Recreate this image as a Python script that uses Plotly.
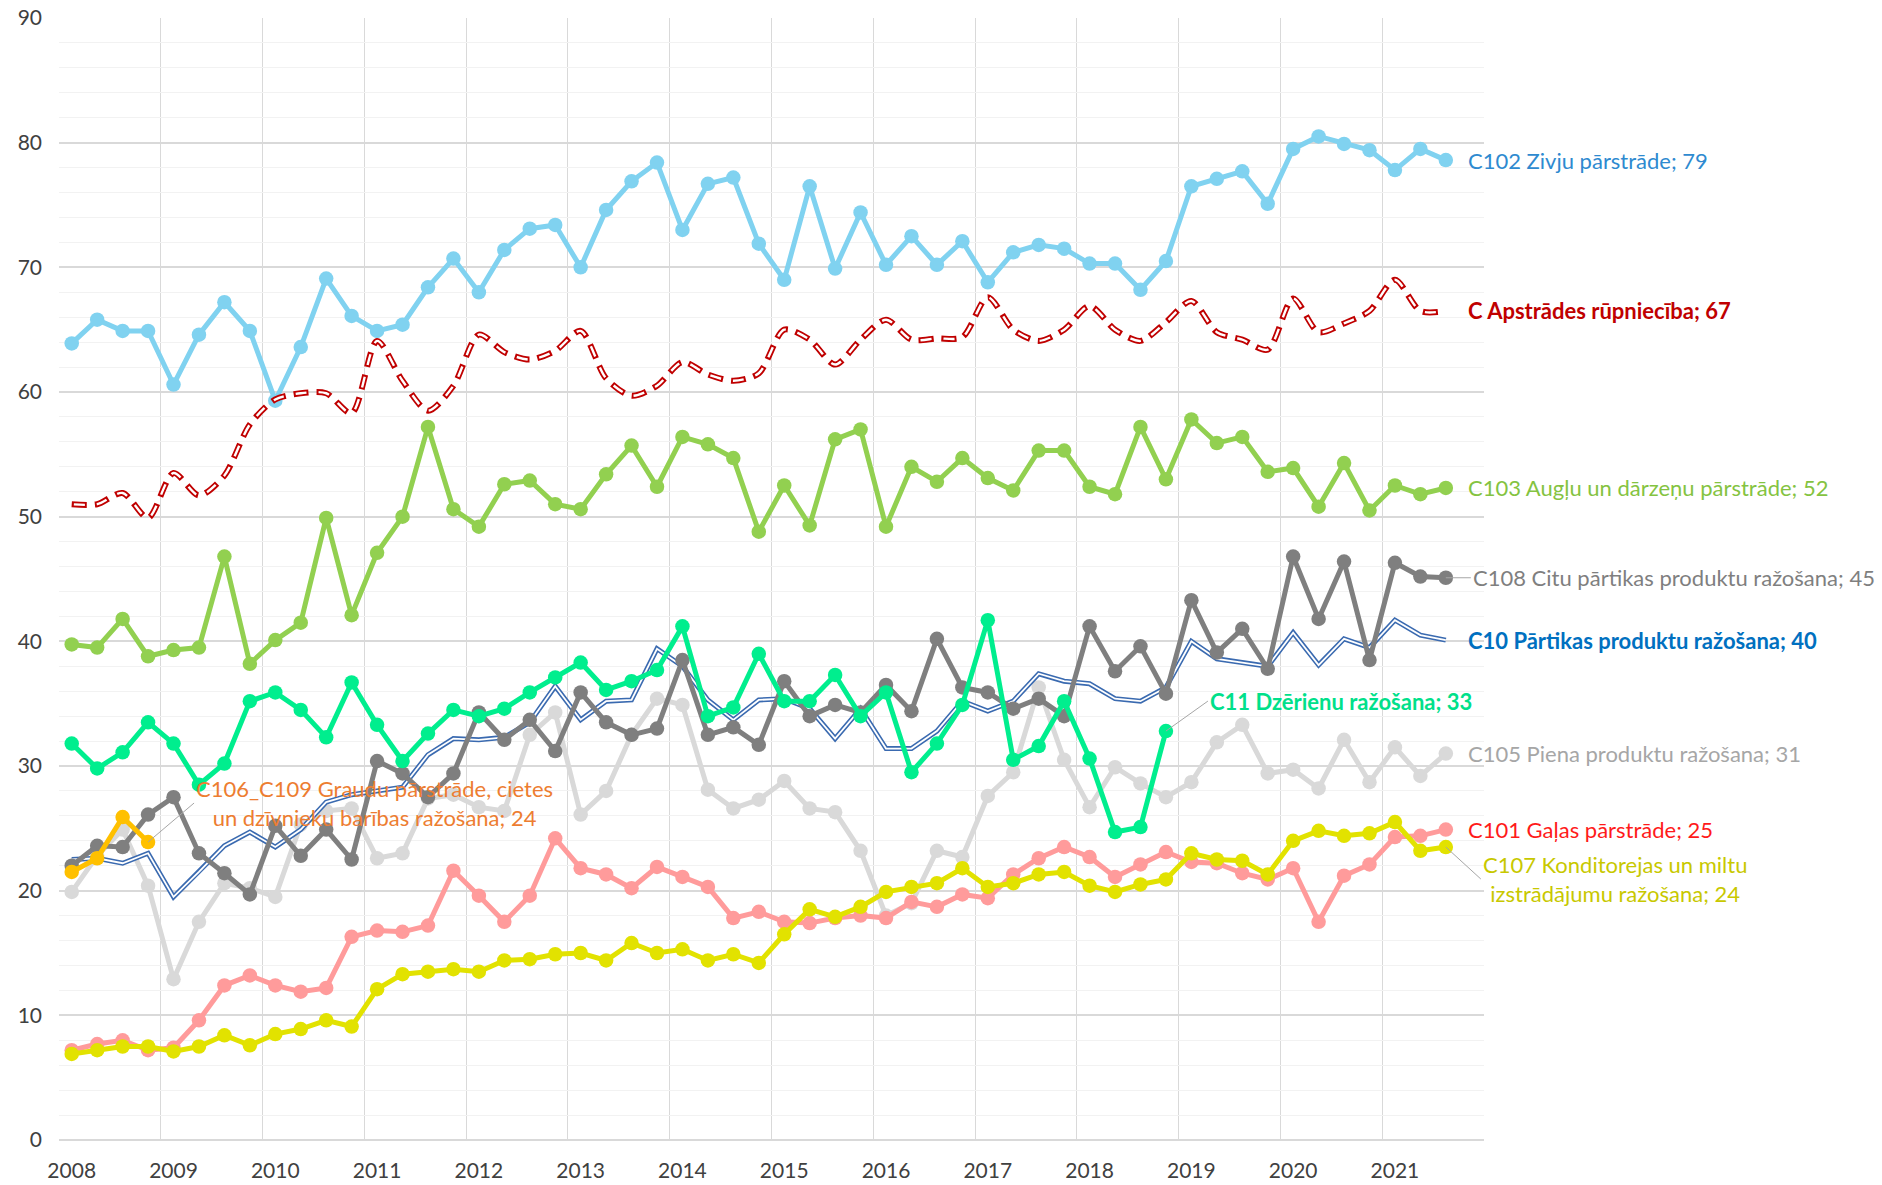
import plotly.graph_objects as go

# ---------------- data (quarterly, 2008Q1 .. 2021Q3) ----------------
years = [str(y) for y in range(2008, 2022)]
n_cat = 56  # 14 years x 4 quarters on the axis

c102 = [63.9, 65.8, 64.9, 64.9, 60.6, 64.6, 67.2, 64.9, 59.3, 63.6,
        69.1, 66.1, 64.9, 65.4, 68.4, 70.7, 68.0, 71.4, 73.1, 73.4,
        70.0, 74.6, 76.9, 78.4, 73.0, 76.7, 77.2, 71.9, 69.0, 76.5,
        69.9, 74.4, 70.2, 72.5, 70.2, 72.1, 68.8, 71.2, 71.8, 71.5,
        70.3, 70.3, 68.2, 70.5, 76.5, 77.1, 77.7, 75.1, 79.5, 80.5,
        79.9, 79.4, 77.8, 79.5, 78.6]
c_total = [51.0, 51.0, 51.9, 49.9, 53.5, 51.7, 53.3, 57.4, 59.4, 59.9,
           59.9, 58.3, 64.1, 60.9, 58.5, 60.5, 64.6, 63.2, 62.6, 63.3,
           64.9, 61.1, 59.7, 60.5, 62.4, 61.4, 60.9, 61.5, 65.0, 64.2,
           62.2, 64.2, 65.8, 64.2, 64.3, 64.4, 67.6, 65.0, 64.1, 65.0,
           66.9, 65.0, 64.1, 65.6, 67.3, 64.8, 64.2, 63.4, 67.5, 64.8,
           65.5, 66.5, 69.0, 66.5, 66.5]
c103 = [39.75, 39.5, 41.8, 38.8, 39.3, 39.5, 46.8, 38.2, 40.1, 41.5,
        49.9, 42.1, 47.1, 50.0, 57.2, 50.6, 49.2, 52.6, 52.9, 51.0,
        50.6, 53.4, 55.7, 52.4, 56.4, 55.8, 54.7, 48.8, 52.5, 49.3,
        56.2, 57.0, 49.2, 54.0, 52.8, 54.7, 53.1, 52.1, 55.3, 55.3,
        52.4, 51.8, 57.2, 53.0, 57.8, 55.9, 56.4, 53.6, 53.9, 50.8,
        54.3, 50.5, 52.5, 51.8, 52.3]
c108 = [22.0, 23.6, 23.5, 26.1, 27.5, 23.0, 21.4, 19.7, 25.2, 22.8,
        24.9, 22.5, 30.4, 29.4, 27.5, 29.4, 34.3, 32.1, 33.7, 31.2,
        35.9, 33.5, 32.5, 33.0, 38.5, 32.5, 33.1, 31.7, 36.8, 34.0,
        34.9, 34.3, 36.5, 34.4, 40.2, 36.3, 35.9, 34.6, 35.4, 34.0,
        41.2, 37.6, 39.6, 35.8, 43.3, 39.1, 41.0, 37.8, 46.8, 41.8,
        46.4, 38.5, 46.3, 45.2, 45.1]
c10 = [22.5, 22.6, 22.2, 23.0, 19.5, 21.5, 23.6, 24.7, 23.5, 24.9,
       27.1, 27.7, 28.0, 28.3, 30.9, 32.2, 32.1, 32.3, 33.5, 36.4,
       33.7, 35.2, 35.3, 39.4, 38.0, 35.3, 33.7, 35.3, 35.4, 34.6,
       32.2, 34.6, 31.4, 31.4, 32.8, 35.2, 34.4, 35.2, 37.4, 36.8,
       36.6, 35.4, 35.2, 36.3, 40.0, 38.6, 38.3, 38.0, 40.7, 38.1,
       40.2, 39.5, 41.7, 40.5, 40.1]
c11 = [31.8, 29.8, 31.1, 33.5, 31.8, 28.5, 30.2, 35.2, 35.9, 34.5,
       32.3, 36.7, 33.3, 30.4, 32.6, 34.5, 34.0, 34.6, 35.9, 37.1,
       38.3, 36.1, 36.8, 37.7, 41.2, 34.0, 34.7, 39.0, 35.2, 35.2,
       37.3, 34.0, 35.9, 29.5, 31.8, 34.9, 41.7, 30.5, 31.6, 35.2,
       30.6, 24.7, 25.1, 32.8]
c105 = [19.9, 22.8, 24.9, 20.4, 12.9, 17.5, 20.6, 20.2, 19.5, 25.3,
        26.4, 26.6, 22.6, 23.0, 27.4, 27.7, 26.7, 26.4, 32.5, 34.3,
        26.1, 28.0, 32.5, 35.4, 34.9, 28.1, 26.6, 27.3, 28.8, 26.6,
        26.3, 23.2, 18.0, 19.0, 23.2, 22.7, 27.6, 29.5, 36.3, 30.5,
        26.7, 29.9, 28.6, 27.5, 28.7, 31.9, 33.3, 29.4, 29.7, 28.2,
        32.1, 28.7, 31.5, 29.2, 31.0]
c101 = [7.2, 7.7, 8.0, 7.2, 7.4, 9.6, 12.4, 13.2, 12.4, 11.9,
        12.2, 16.3, 16.8, 16.7, 17.2, 21.6, 19.6, 17.5, 19.6, 24.2,
        21.8, 21.3, 20.2, 21.9, 21.1, 20.3, 17.8, 18.3, 17.5, 17.4,
        17.8, 18.0, 17.8, 19.1, 18.7, 19.7, 19.4, 21.3, 22.6, 23.5,
        22.7, 21.1, 22.1, 23.1, 22.3, 22.2, 21.4, 20.9, 21.8, 17.5,
        21.2, 22.1, 24.3, 24.4, 24.9]
c107 = [6.9, 7.2, 7.5, 7.5, 7.1, 7.5, 8.4, 7.6, 8.5, 8.9,
        9.6, 9.1, 12.1, 13.3, 13.5, 13.7, 13.5, 14.4, 14.5, 14.9,
        15.0, 14.4, 15.8, 15.0, 15.3, 14.4, 14.9, 14.2, 16.5, 18.5,
        17.9, 18.7, 19.9, 20.3, 20.6, 21.8, 20.3, 20.6, 21.3, 21.5,
        20.4, 19.9, 20.5, 20.9, 23.0, 22.5, 22.4, 21.3, 24.0, 24.8,
        24.4, 24.6, 25.5, 23.2, 23.5]
c106_109 = [21.5, 22.6, 25.9, 23.9]

FONT = "Lato"
fig = go.Figure()


def idx(series):
    return list(range(len(series)))


def marker_line(series, color, name):
    fig.add_trace(go.Scatter(
        x=idx(series), y=series, mode="lines+markers", name=name,
        line=dict(color=color, width=5),
        marker=dict(color=color, size=14.5),
        hoverinfo="x+y+name"))


# draw order (back to front)
marker_line(c105, "#D9D9D9", "C105")
marker_line(c101, "#FF9B9B", "C101")
marker_line(c107, "#E2E200", "C107")
# C10 double line
fig.add_trace(go.Scatter(x=idx(c10), y=c10, mode="lines", name="C10",
                         line=dict(color="#3A6AB0", width=5)))
fig.add_trace(go.Scatter(x=idx(c10), y=c10, mode="lines", showlegend=False,
                         hoverinfo="skip", line=dict(color="#FFFFFF", width=1.8)))
marker_line(c108, "#7F7F7F", "C108")
marker_line(c11, "#00EE8E", "C11")
marker_line(c103, "#92D050", "C103")
marker_line(c102, "#80D2F0", "C102")
# C total: smoothed, red-outlined dashes
fig.add_trace(go.Scatter(x=idx(c_total), y=c_total, mode="lines", name="C",
                         line=dict(color="#C00000", width=6, dash="15px,8px",
                                   shape="spline", smoothing=0.8)))
fig.add_trace(go.Scatter(x=idx(c_total), y=c_total, mode="lines", showlegend=False,
                         hoverinfo="skip",
                         line=dict(color="#FFFFFF", width=2.4, dash="0px,2px,11px,10px",
                                   shape="spline", smoothing=0.8)))
marker_line(c106_109, "#FFC000", "C106_C109")

# ---------------- labels ----------------
LS = 22


def end_label(series, text, color, bold=False):
    fig.add_annotation(x=len(series) - 1, y=series[-1], xref="x", yref="y",
                       text=(f"<b>{text}</b>" if bold else text),
                       showarrow=False, xanchor="left", yanchor="middle", xshift=20,
                       font=dict(family=FONT, size=LS, color=color))


def leader_label(series, text, color, ax, ay, bold=False, align="left"):
    fig.add_annotation(x=len(series) - 1, y=series[-1], xref="x", yref="y",
                       text=(f"<b>{text}</b>" if bold else text),
                       showarrow=True, arrowhead=0, arrowwidth=1, arrowcolor="#A6A6A6",
                       ax=ax, ay=ay, axref="pixel", ayref="pixel",
                       xanchor="left", yanchor="middle", align=align,
                       font=dict(family=FONT, size=LS, color=color))


end_label(c102, "C102 Zivju pārstrāde; 79", "#2E8AD0")
end_label(c_total, "C Apstrādes rūpniecība; 67", "#C00000", bold=True)
end_label(c103, "C103 Augļu un dārzeņu pārstrāde; 52", "#84C341")
leader_label(c108, "C108 Citu pārtikas produktu ražošana; 45", "#7F7F7F", 25, 0)
end_label(c10, "C10 Pārtikas produktu ražošana; 40", "#0070C0", bold=True)
leader_label(c11, "C11 Dzērienu ražošana; 33", "#00E08A", 42, -30, bold=True)
end_label(c105, "C105 Piena produktu ražošana; 31", "#A6A6A6")
end_label(c101, "C101 Gaļas pārstrāde; 25", "#FF1A1A")
leader_label(c107, "C107 Konditorejas un miltu<br>izstrādājumu ražošana; 24", "#C8C800",
             35, 32, align="center")
leader_label(c106_109, "C106_C109 Graudu pārstrāde, cietes<br>un dzīvnieku barības ražošana; 24",
             "#ED7D31", 46, -39, align="center")

# ---------------- axes / layout ----------------
year_pos = list(range(0, n_cat, 4))
boundaries = [p + 3.5 for p in year_pos[:-1]]

fig.update_layout(
    width=1882, height=1185,
    margin=dict(l=59, r=398, t=18, b=45, pad=0, autoexpand=False),
    paper_bgcolor="white", plot_bgcolor="white",
    showlegend=False,
    font=dict(family=FONT, size=21, color="#404040"),
    xaxis=dict(range=[-0.5, n_cat - 0.5], tickmode="array", tickvals=year_pos,
               ticktext=years, showgrid=False, zeroline=False, showline=False,
               ticks="", ticklabelstandoff=16, automargin=False,
               tickfont=dict(family=FONT, size=21, color="#404040"),
               minor=dict(tickmode="array", tickvals=boundaries, showgrid=True,
                          gridcolor="#D9D9D9", gridwidth=1, ticks="")),
    yaxis=dict(range=[0, 90], dtick=10, tick0=0, showgrid=True, gridcolor="#D9D9D9",
               gridwidth=1.5, zeroline=True, zerolinecolor="#D9D9D9", zerolinewidth=1.5,
               showline=False, ticks="", ticklabelstandoff=16, automargin=False,
               tickfont=dict(family=FONT, size=21, color="#404040"),
               minor=dict(dtick=2, showgrid=True, gridcolor="#F2F2F2", gridwidth=1,
                          ticks="")),
)

fig.write_html("out.html", config={"displayModeBar": False},
               post_script="document.body.style.margin='0';"
               "document.body.style.overflow='hidden';")
